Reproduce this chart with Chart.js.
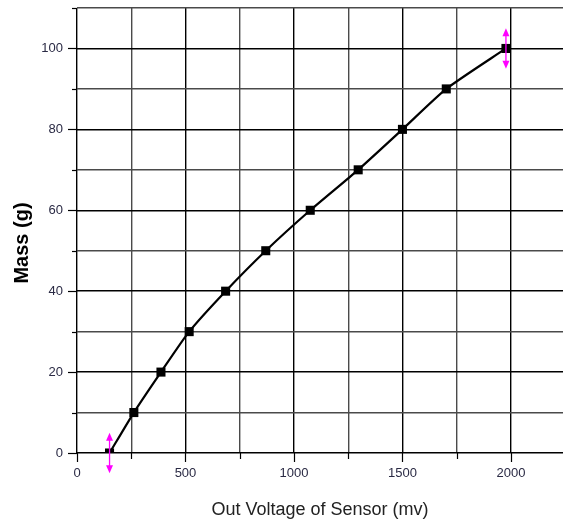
<!DOCTYPE html>
<html>
<head>
<meta charset="utf-8">
<script src="https://cdn.jsdelivr.net/npm/chart.js@4.4.1/dist/chart.umd.min.js"></script>
<style>
  html, body { margin: 0; padding: 0; background: #ffffff; }
  canvas { display: block; }
</style>
</head>
<body>
<canvas id="chart" width="563" height="521"></canvas>
<script>
// Calibration readings: sensor output voltage against the applied mass
const voltage = [150, 262, 387, 517, 685, 870, 1075, 1296, 1500, 1702, 1977];
const mass = [0, 10, 20, 30, 40, 50, 60, 70, 80, 90, 100];

// Grid positions and labelled ticks on each axis
const xGrid = [0, 250, 500, 750, 1000, 1250, 1500, 1750, 2000];
const xTickLabels = [0, 500, 1000, 1500, 2000];
const yGrid = [0, 10, 20, 30, 40, 50, 60, 70, 80, 90, 100, 110];
const yTickLabels = [0, 20, 40, 60, 80, 100];

// Points carrying an uncertainty marker, and its half-range in grams
const markedPoints = [0, 10];
const massError = [5, 5];

const FONT = "'Liberation Sans', Arial, sans-serif";
const LABEL_COLOR = '#2a2a44';

const isLabelled = (list, v) => list.some(t => Math.abs(t - v) < 1e-6);

// Let the plot area run all the way to the right edge of the canvas
const fullWidthArea = {
  id: 'fullWidthArea',
  afterLayout(chart) {
    const area = chart.chartArea;
    area.right = chart.width;
    area.width = area.right - area.left;
    const x = chart.scales.x;
    x.right = area.right;
    x.width = x.right - x.left;
    x.configure();
  }
};

// Short and long tick marks drawn outside the plot area
const tickMarks = {
  id: 'tickMarks',
  afterDraw(chart) {
    const { ctx, chartArea, scales } = chart;
    ctx.save();
    ctx.lineWidth = 1.2;
    ctx.strokeStyle = '#000';
    scales.y.ticks.forEach(t => {
      const y = Math.round(scales.y.getPixelForValue(t.value)) + 0.5;
      const len = isLabelled(yTickLabels, t.value) ? 9 : 5;
      ctx.beginPath();
      ctx.moveTo(chartArea.left - len, y);
      ctx.lineTo(chartArea.left, y);
      ctx.stroke();
    });
    scales.x.ticks.forEach(t => {
      const x = Math.round(scales.x.getPixelForValue(t.value)) + 0.5;
      const len = isLabelled(xTickLabels, t.value) ? 9 : 6;
      ctx.beginPath();
      ctx.moveTo(x, chartArea.bottom);
      ctx.lineTo(x, chartArea.bottom + len);
      ctx.stroke();
    });
    ctx.restore();
  }
};

// Magenta double-headed arrows spanning mass ± error
const errorArrows = {
  id: 'errorArrows',
  afterDatasetsDraw(chart) {
    const { ctx, scales } = chart;
    ctx.save();
    ctx.strokeStyle = '#ff00ff';
    ctx.fillStyle = '#ff00ff';
    ctx.lineWidth = 1.3;
    markedPoints.forEach((i, k) => {
      const x = scales.x.getPixelForValue(voltage[i]);
      const yTop = scales.y.getPixelForValue(mass[i] + massError[k]);
      const yBot = scales.y.getPixelForValue(mass[i] - massError[k]);
      ctx.beginPath();
      ctx.moveTo(x, yTop + 4);
      ctx.lineTo(x, yBot - 4);
      ctx.stroke();
      const head = (tipY, dir) => {
        ctx.beginPath();
        ctx.moveTo(x, tipY);
        ctx.lineTo(x - 3.5, tipY + dir * 8);
        ctx.lineTo(x + 3.5, tipY + dir * 8);
        ctx.closePath();
        ctx.fill();
      };
      head(yTop, 1);
      head(yBot, -1);
    });
    ctx.restore();
  }
};

// Vertical axis title
const yTitle = {
  id: 'yTitle',
  afterDraw(chart) {
    const { ctx } = chart;
    ctx.save();
    ctx.translate(22, 243);
    ctx.rotate(-Math.PI / 2);
    ctx.font = 'bold 20px ' + FONT;
    ctx.fillStyle = '#000';
    ctx.textAlign = 'center';
    ctx.textBaseline = 'middle';
    ctx.fillText('Mass (g)', 0, 0);
    ctx.restore();
  }
};

new Chart(document.getElementById('chart'), {
  type: 'line',
  data: {
    datasets: [{
      data: voltage.map((v, i) => ({ x: v, y: mass[i] })),
      borderColor: '#000',
      borderWidth: 2.2,
      backgroundColor: '#000',
      pointStyle: 'rect',
      pointRadius: 6.4,
      pointBorderWidth: 0,
      pointBackgroundColor: '#000',
      tension: 0.2,
      clip: 0
    }]
  },
  options: {
    responsive: false,
    animation: false,
    devicePixelRatio: 1,
    layout: { padding: { top: 8, right: 0, left: 0, bottom: 0 } },
    plugins: { legend: { display: false }, tooltip: { enabled: false } },
    scales: {
      x: {
        type: 'linear',
        min: 0,
        max: 2240,
        afterBuildTicks: s => { s.ticks = xGrid.map(v => ({ value: v })); },
        afterFit: s => { s.height = 68; s.paddingLeft = 0; s.paddingRight = 0; },
        border: { display: false },
        grid: {
          drawTicks: false,
          lineWidth: 1.4,
          color: c => (c.tick && isLabelled(xTickLabels, c.tick.value)) ? '#000' : '#4a4a4a'
        },
        ticks: {
          autoSkip: false,
          maxRotation: 0,
          padding: 13,
          color: LABEL_COLOR,
          font: { family: FONT, size: 13 },
          callback: v => isLabelled(xTickLabels, v) ? String(Math.round(v)) : ''
        },
        title: {
          display: true,
          text: 'Out Voltage of Sensor (mv)',
          color: '#222',
          font: { family: FONT, size: 18 },
          padding: { top: 0, bottom: 0 }
        }
      },
      y: {
        type: 'linear',
        min: 0,
        max: 110,
        afterBuildTicks: s => { s.ticks = yGrid.map(v => ({ value: v })); },
        afterFit: s => {
          s.width = 77;
          s.paddingTop = 0; s.paddingBottom = 0;
          s.paddingLeft = 0; s.paddingRight = 0;
        },
        border: { display: false },
        grid: {
          drawTicks: false,
          lineWidth: 1.4,
          color: c => (c.tick && isLabelled(yTickLabels, c.tick.value)) ? '#000' : '#4a4a4a'
        },
        ticks: {
          autoSkip: false,
          padding: 14,
          color: LABEL_COLOR,
          font: { family: FONT, size: 13 },
          callback: v => isLabelled(yTickLabels, v) ? String(Math.round(v)) : ''
        }
      }
    }
  },
  plugins: [fullWidthArea, tickMarks, errorArrows, yTitle]
});
</script>
</body>
</html>
